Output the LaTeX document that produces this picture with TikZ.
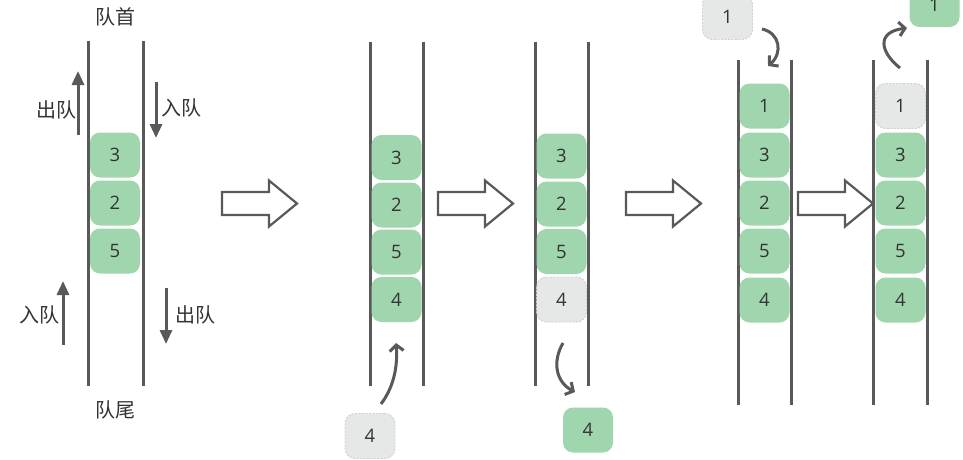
\documentclass[tikz,border=0pt]{standalone}
\usepackage{fontspec}
\setmainfont{Open Sans}
\newfontfamily\cjk{Noto Sans CJK SC}
\usetikzlibrary{arrows.meta}
\definecolor{qgreen}{HTML}{A0D6AD}
\definecolor{qgray}{HTML}{E6E8E8}
\definecolor{qborder}{HTML}{CDD0D0}
\definecolor{qline}{HTML}{595959}
\definecolor{qtext}{HTML}{333333}
\begin{document}
\begin{tikzpicture}[x=1pt,y=-1pt,
 gbox/.style={rectangle,rounded corners=10pt,minimum width=50pt,minimum height=45pt,inner sep=0pt,fill=qgreen,text=qtext,font=\fontsize{18.5}{20}\selectfont},
 dbox/.style={gbox,fill=qgray,draw=qborder,dash pattern=on 2pt off 1.5pt,line width=0.9pt},
 wall/.style={line width=3pt,draw=qline},
 lab/.style={text=qtext,inner sep=0pt,font=\cjk\fontsize{20}{22}\selectfont},
 sarrow/.style={line width=3pt,draw=qline,-{Triangle[length=14pt,width=12pt]}},
 carrow/.style={line width=3pt,draw=qline,-{Straight Barb[length=6pt,width=14pt]}},
 bigarrow/.style={line width=2.2pt,draw=qline,fill=white,line join=miter}]
\useasboundingbox (0,0) rectangle (963,460);
\fill[white] (0,0) rectangle (963,460);

% ---------- stack 1 ----------
\draw[wall] (88,41) -- (88,386);
\draw[wall] (143,41) -- (143,386);
\node[gbox] (a3) at (115,155) {3};
\node[gbox] (a2) at (115,203) {2};
\node[gbox] (a5) at (115,251) {5};
\node[lab] (head) at (115,17) {队首};
\node[lab] (tail) at (115,410) {队尾};
\coordinate (o1s) at (78,135); \coordinate (o1e) at (78,71);
\draw[sarrow] (o1s) -- (o1e);
\node[lab] (o1l) at (56,110) {出队};
\coordinate (i1s) at (156,82); \coordinate (i1e) at (156,138);
\draw[sarrow] (i1s) -- (i1e);
\node[lab] (i1l) at (181,108) {入队};
\coordinate (i2s) at (63,345); \coordinate (i2e) at (63,281);
\draw[sarrow] (i2s) -- (i2e);
\node[lab] (i2l) at (39,315) {入队};
\coordinate (o2s) at (166,288); \coordinate (o2e) at (166,344);
\draw[sarrow] (o2s) -- (o2e);
\node[lab] (o2l) at (195,315) {出队};

% ---------- block arrows ----------
\foreach \x in {222,438,626,798}{
  \draw[bigarrow] (\x,192) -- ++(47,0) -- ++(0,-11.5) -- ++(28,23) -- ++(-28,23) -- ++(0,-11.5) -- ++(-47,0) -- cycle;
}

% ---------- stack 2 ----------
\draw[wall] (370,42) -- (370,386);
\draw[wall] (423,42) -- (423,386);
\node[gbox] (b3) at (396.5,157.5) {3};
\node[gbox] (b2) at (396.5,205) {2};
\node[gbox] (b5) at (396.5,252) {5};
\node[gbox] (b4) at (396.5,299.5) {4};
\node[dbox] (b4n) at (370,436) {4};
\coordinate (bs) at (381,404);
\coordinate (be) at (396,343);
\draw[carrow] (bs) .. controls (393,388) and (398,368) .. (be);

% ---------- stack 3 ----------
\draw[wall] (535,42) -- (535,386);
\draw[wall] (588,42) -- (588,386);
\node[gbox] (c3) at (561.5,156) {3};
\node[gbox] (c2) at (561.5,204) {2};
\node[gbox] (c5) at (561.5,251.5) {5};
\node[dbox] (c4) at (561.5,299.5) {4};
\node[gbox] (c4n) at (588,430) {4};
\coordinate (cs) at (563,343);
\coordinate (ce) at (575,392);
\draw[carrow] (cs) .. controls (552,362) and (556,382) .. (ce);

% ---------- stack 4 ----------
\draw[wall] (738,60) -- (738,405);
\draw[wall] (791,60) -- (791,405);
\node[gbox] (d1) at (764.5,106) {1};
\node[gbox] (d3) at (764.5,155) {3};
\node[gbox] (d2) at (764.5,203) {2};
\node[gbox] (d5) at (764.5,251) {5};
\node[gbox] (d4) at (764.5,300) {4};
\node[dbox] (d1n) at (727.5,17) {1};
\coordinate (ds) at (762,29);
\coordinate (de) at (768,66);
\draw[carrow] (ds) .. controls (780,33) and (783,53) .. (de);

% ---------- stack 5 ----------
\draw[wall] (873,60) -- (873,405);
\draw[wall] (927,60) -- (927,405);
\node[dbox] (e1) at (900.5,106) {1};
\node[gbox] (e3) at (900.5,155) {3};
\node[gbox] (e2) at (900.5,203) {2};
\node[gbox] (e5) at (900.5,251) {5};
\node[gbox] (e4) at (900.5,300) {4};
\node[gbox] (e1n) at (934.5,4.5) {1};
\coordinate (es) at (900,68);
\coordinate (ee) at (907,28);
\draw[carrow] (es) .. controls (880,52) and (876,32) .. (ee);
\end{tikzpicture}
\end{document}
